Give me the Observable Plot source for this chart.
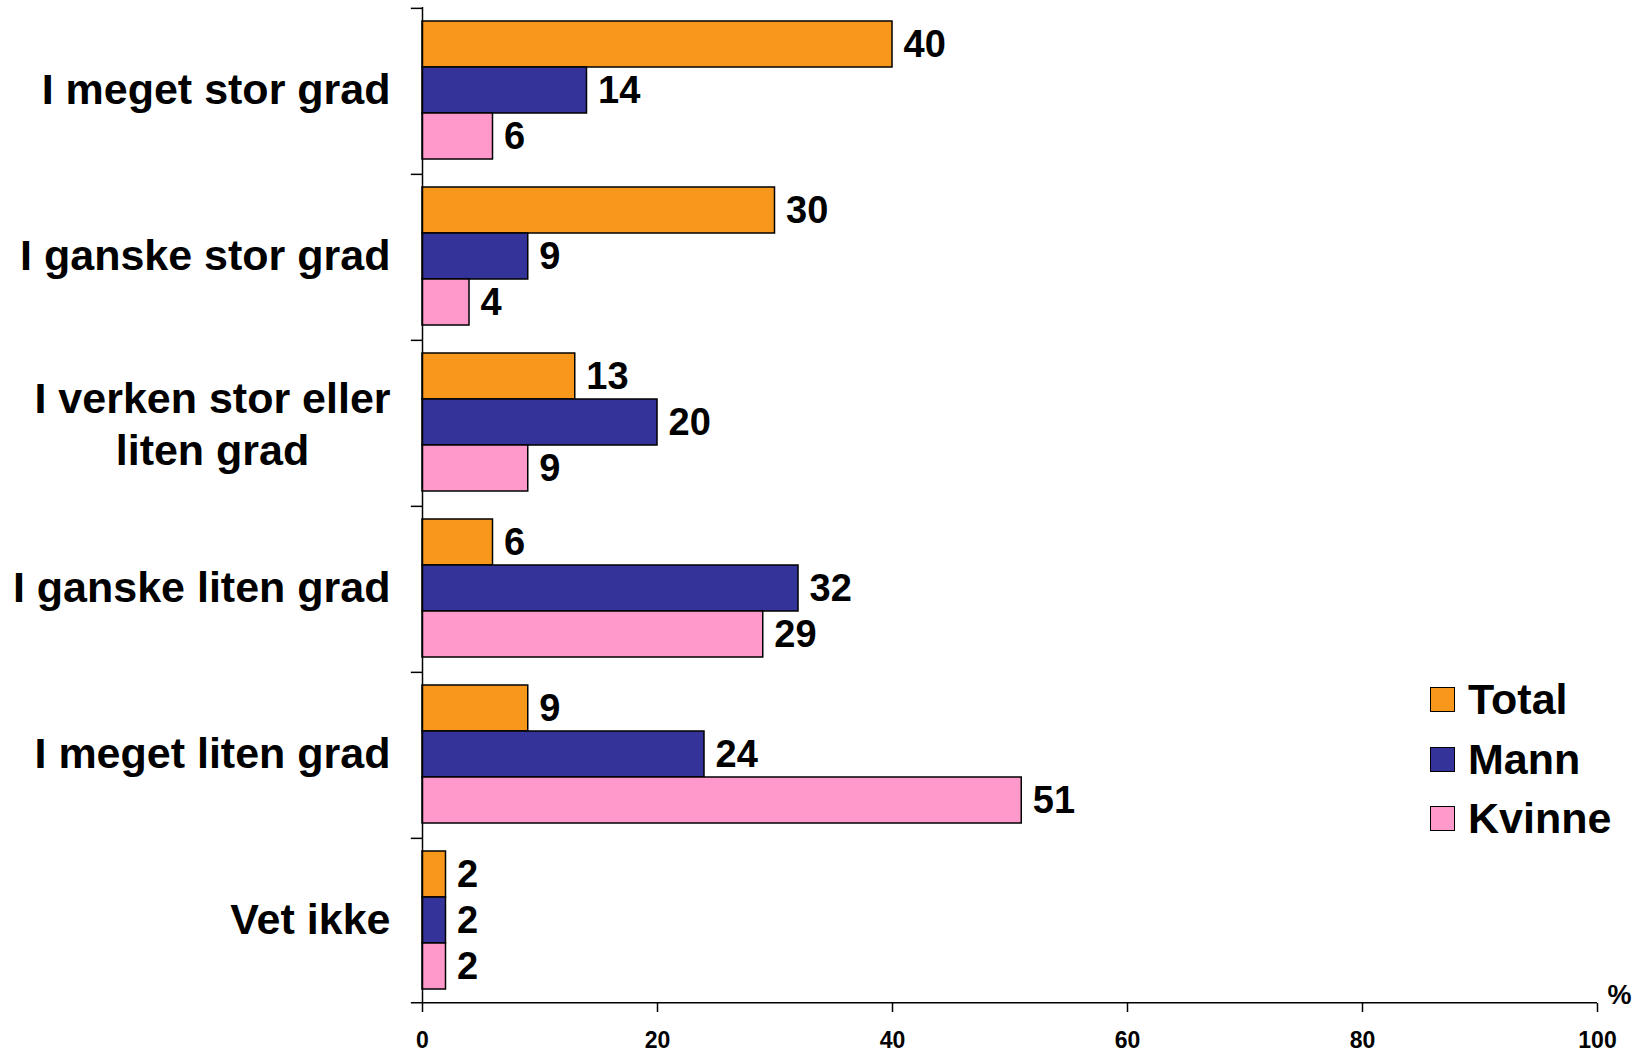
<!DOCTYPE html>
<html><head><meta charset="utf-8">
<script src="https://cdn.jsdelivr.net/npm/d3@7"></script>
<script src="https://cdn.jsdelivr.net/npm/@observablehq/plot@0.6"></script>
<style>
body{margin:0;background:#fff;}
#wrap{position:relative;width:1645px;height:1053px;font-family:"Liberation Sans",Arial,sans-serif;}
#legend{position:absolute;left:1430px;top:670px;}
.row{display:flex;align-items:center;height:59.5px;font-size:43px;font-weight:bold;color:#000;}
.sw{width:23px;height:23px;border:1.5px solid #000;margin-right:13px;flex:none;}
</style></head>
<body><div id="wrap"><div id="chart"></div><div id="legend"></div></div>
<script>
const categories = ["I meget stor grad", "I ganske stor grad", "I verken stor eller\nliten grad", "I ganske liten grad", "I meget liten grad", "Vet ikke"];
const series = ["Total", "Mann", "Kvinne"];
const totalValues = [40, 30, 13, 6, 9, 2];
const mannValues = [14, 9, 20, 32, 24, 2];
const kvinneValues = [6, 4, 9, 29, 51, 2];
const colors = ["#F7981D", "#333399", "#FF99CC"];
const xTicks = [0, 20, 40, 60, 80, 100];

const W = 1645, H = 1053, mt = 6, mb = 50, ml = 422, mr = 48;
const po = 0.27;
const facetBand = (H - mt - mb) / categories.length;
const step = facetBand / (series.length + 2 * po);
const edge = step * (0.5 + po);

const seriesValues = [totalValues, mannValues, kvinneValues];
const rows = [];
categories.forEach((c, i) => series.forEach((s, j) => rows.push({category: c, series: s, value: seriesValues[j][i]})));

const multi = categories.filter(c => c.includes("\n"));
const single = categories.filter(c => !c.includes("\n"));
const font = "'Liberation Sans', Arial, sans-serif";

const plot = Plot.plot({
  width: W, height: H, marginTop: mt, marginBottom: mb, marginLeft: ml, marginRight: mr,
  style: {fontFamily: font, background: "white", overflow: "visible", color: "black"},
  x: {domain: [0, 100], axis: null},
  y: {domain: series, paddingInner: 0, paddingOuter: po, axis: null},
  fy: {domain: categories, padding: 0, axis: null},
  color: {domain: series, range: colors},
  marks: [
    Plot.barX(rows, {fy: "category", y: "series", x: "value", fill: "series", stroke: "black", strokeWidth: 1.5}),
    Plot.text(rows, {fy: "category", y: "series", x: "value", text: d => String(d.value), dx: 11, textAnchor: "start", fontSize: 38, fontWeight: "bold", fill: "black"}),
    Plot.ruleX([0], {stroke: "black", strokeWidth: 1.5}),
    Plot.ruleY(categories, {fy: d => d, y: () => series[0], x1: -0.95, x2: 0, dy: -edge, stroke: "black", strokeWidth: 1.5}),
    Plot.ruleY([categories[categories.length - 1]], {fy: d => d, y: () => series[series.length - 1], x1: -0.95, x2: 100, dy: edge, stroke: "black", strokeWidth: 1.5}),
    Plot.text(single, {fy: d => d, text: d => d, frameAnchor: "left", dx: -32, textAnchor: "end", fontSize: 43, fontWeight: "bold", fill: "black"}),
    Plot.text(multi, {fy: d => d, text: d => d, frameAnchor: "left", dx: -210, textAnchor: "middle", lineHeight: 1.2, fontSize: 43, fontWeight: "bold", fill: "black"}),
    Plot.text(["%"], {fy: () => categories[categories.length - 1], text: d => d, frameAnchor: "bottom-right", dx: 10, textAnchor: "start", fontSize: 27, fontWeight: "bold", fill: "black"}),
    Plot.axisX({ticks: xTicks, tickSize: 9, tickPadding: 19, fontSize: 23, fontWeight: "bold", label: null, strokeWidth: 1.5, anchor: "bottom"})
  ]
});
document.getElementById("chart").appendChild(plot);

const legend = document.getElementById("legend");
series.forEach((s, j) => {
  const row = document.createElement("div");
  row.className = "row";
  const sw = document.createElement("div");
  sw.className = "sw";
  sw.style.background = colors[j];
  const t = document.createElement("span");
  t.textContent = s;
  row.appendChild(sw); row.appendChild(t);
  legend.appendChild(row);
});
</script>
</body></html>
